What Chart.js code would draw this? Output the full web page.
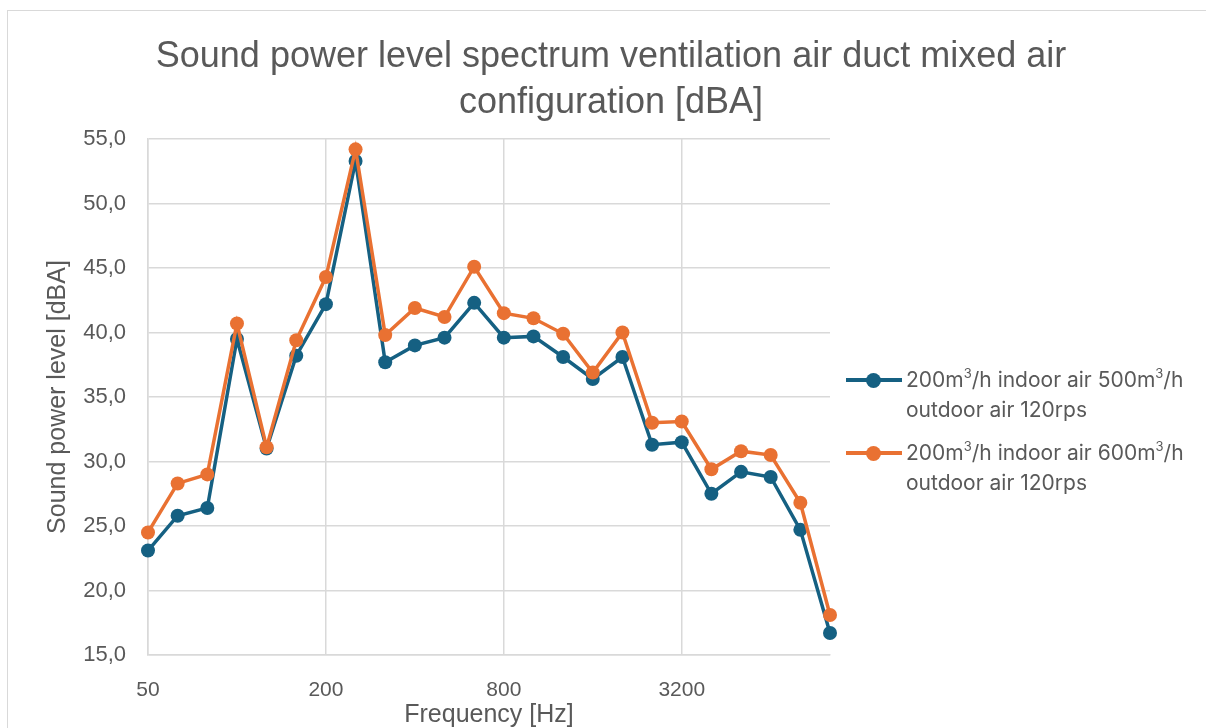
<!DOCTYPE html>
<html>
<head>
<meta charset="utf-8">
<script src="https://cdn.jsdelivr.net/npm/chart.js@4.4.1/dist/chart.umd.min.js"></script>
<style>
  html, body { margin: 0; padding: 0; background: #ffffff; }
  #wrap { position: relative; width: 1206px; height: 728px; overflow: hidden; background: #fff; }
  #frame { position: absolute; left: 7px; top: 10px; width: 1230px; height: 760px; border: 1.5px solid #d9d9d9; box-sizing: border-box; }
  canvas { position: absolute; left: 0; top: 0; }
  #legend { position: absolute; left: 846px; top: 0; font-family: "Inter", "Liberation Sans", sans-serif; font-size: 21px; color: #595959; }
  .item { position: absolute; left: 0; white-space: nowrap; line-height: 28px; }
  .sw { position: absolute; left: 0; width: 56px; height: 4px; }
  .dot { position: absolute; left: 20px; width: 15px; height: 15px; border-radius: 50%; }
  .txt { position: absolute; left: 60px; }
  sup { font-size: 13px; vertical-align: 0; position: relative; top: -9px; }
</style>
</head>
<body>
<div id="wrap">
  <div id="frame"></div>
  <canvas id="c" width="1206" height="728"></canvas>
  <div id="legend"></div>
</div>
<script>
const categories = ['50','63','80','100','125','160','200','250','315','400','500','630','800','1000','1250','1600','2000','2500','3200','4000','5000','6300','8000','10000'];
const series500 = [23.1,25.8,26.4,39.5,31.0,38.2,42.2,53.3,37.7,39.0,39.6,42.3,39.6,39.7,38.1,36.4,38.1,31.3,31.5,27.5,29.2,28.8,24.7,16.7];
const series600 = [24.5,28.3,29.0,40.7,31.1,39.4,44.3,54.2,39.8,41.9,41.2,45.1,41.5,41.1,39.9,36.9,40.0,33.0,33.1,29.4,30.8,30.5,26.8,18.1];
const seriesNames = ['200m3/h indoor air 500m3/h outdoor air 120rps', '200m3/h indoor air 600m3/h outdoor air 120rps'];
const seriesColors = ['#156082', '#E97132'];
const yTicks = [15, 20, 25, 30, 35, 40, 45, 50, 55];
const titleLines = ['Sound power level spectrum ventilation air duct mixed air', 'configuration [dBA]'];

const GRID = '#d9d9d9';
const TXT = '#595959';

const chart = new Chart(document.getElementById('c'), {
  type: 'line',
  data: {
    labels: categories,
    datasets: [
      { label: seriesNames[0], data: series500, borderColor: seriesColors[0], backgroundColor: seriesColors[0],
        borderWidth: 3.5, pointRadius: 7, pointHoverRadius: 7, pointBorderWidth: 0, order: 2, tension: 0 },
      { label: seriesNames[1], data: series600, borderColor: seriesColors[1], backgroundColor: seriesColors[1],
        borderWidth: 3.5, pointRadius: 7, pointHoverRadius: 7, pointBorderWidth: 0, order: 1, tension: 0 }
    ]
  },
  options: {
    responsive: false,
    animation: false,
    layout: { padding: { left: 16, right: 0, top: 0, bottom: 0 } },
    plugins: {
      legend: { display: false },
      tooltip: { enabled: false },
      title: {
        display: true,
        text: titleLines,
        color: TXT,
        font: { family: 'Liberation Sans', size: 36, weight: 'normal', lineHeight: 1.278 },
        padding: { top: 34, bottom: 13 }
      }
    },
    scales: {
      x: {
        type: 'category',
        offset: false,
        grid: {
          drawTicks: false,
          color: (ctx) => (ctx.index % 6 === 0 ? GRID : 'rgba(0,0,0,0)'),
          lineWidth: 1.5
        },
        border: { display: true, color: GRID, width: 1.5 },
        ticks: {
          autoSkip: false,
          maxRotation: 0,
          padding: 23,
          color: TXT,
          font: { family: 'Liberation Sans', size: 21 },
          callback: function (v, i) { return i % 6 === 0 ? categories[i] : ''; }
        },
        title: {
          display: true,
          text: 'Frequency [Hz]',
          color: TXT,
          font: { family: 'Liberation Sans', size: 25 },
          padding: { top: 0, bottom: -2 }
        },
        afterFit: (s) => { s.height = 73; }
      },
      y: {
        min: 15, max: 55,
        afterBuildTicks: (s) => { s.ticks = yTicks.map(v => ({ value: v })); },
        grid: { drawTicks: false, color: GRID, lineWidth: 1.5 },
        border: { display: true, color: GRID, width: 1.5 },
        ticks: {
          padding: 22,
          color: TXT,
          font: { family: 'Liberation Sans', size: 22 },
          callback: (v) => Number(v).toFixed(1).replace('.', ',')
        },
        title: {
          display: true,
          text: 'Sound power level [dBA]',
          color: TXT,
          font: { family: 'Liberation Sans', size: 25 },
          padding: { top: 27, bottom: 0 }
        },
        afterFit: (s) => { s.width = 132; }
      },
      yRight: {
        position: 'right',
        display: true,
        grid: { display: false },
        border: { display: false },
        ticks: { display: false },
        afterFit: (s) => { s.width = 376; }
      }
    }
  }
});

// HTML legend (supports superscripts and wrapping)
const legendTops = [380, 453];
const leg = document.getElementById('legend');
seriesNames.forEach((name, i) => {
  const html = name.replace(/m3/g, 'm<sup>3</sup>').replace(' outdoor', '<br>outdoor');
  const item = document.createElement('div');
  item.className = 'item';
  item.style.top = legendTops[i] + 'px';
  item.innerHTML = '<div class="sw" style="background:' + seriesColors[i] + ';top:-2px"></div>' +
    '<div class="dot" style="background:' + seriesColors[i] + ';top:-7.5px"></div>' +
    '<div class="txt" style="top:-14px">' + html + '</div>';
  leg.appendChild(item);
});
</script>
</body>
</html>
